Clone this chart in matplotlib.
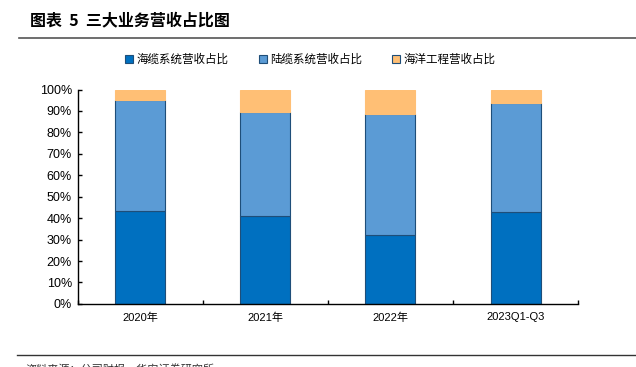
import numpy as np
import matplotlib
matplotlib.use('Agg')
import matplotlib.pyplot as plt
from matplotlib.ticker import FuncFormatter

plt.rcParams['font.family'] = ['Liberation Sans', 'Noto Sans CJK SC', 'DejaVu Sans']

# data (share of revenue, %)
categories = ['2020年', '2021年', '2022年', '2023Q1-Q3']
series_names = ['海缆系统营收占比', '陆缆系统营收占比', '海洋工程营收占比']
sea_cable = [43.4, 41.2, 32.0, 42.9]
land_cable = [51.7, 48.2, 56.4, 50.8]
marine_eng = [4.9, 10.6, 11.6, 6.3]

colors = ['#0070C0', '#5B9BD5', '#FFBF75']

fig = plt.figure(figsize=(6.36, 3.67), dpi=100)
ax = fig.add_axes([0.122, 0.172, 0.787, 0.584])

x = np.arange(len(categories))
w = 0.4
bottom = np.zeros(len(categories))
for vals, name, c in zip([sea_cable, land_cable, marine_eng], series_names, colors):
    ec = '#FFBF75' if c == '#FFBF75' else '#1F4E79'
    ax.bar(x, vals, w, bottom=bottom, color=c, edgecolor=ec, linewidth=0.8, label=name)
    bottom += np.array(vals)

ax.set_xlim(-0.5, len(categories) - 0.5)
ax.set_ylim(0, 100)
ax.set_yticks(np.arange(0, 101, 10))
ax.yaxis.set_major_formatter(FuncFormatter(lambda v, p: '%d%%' % v))
ax.set_xticks(x)
ax.set_xticklabels(categories, fontsize=8)
ax.set_xticks(np.arange(-0.5, len(categories), 1), minor=True)
ax.tick_params(axis='x', which='major', length=0, pad=6)
ax.tick_params(axis='x', which='minor', direction='in', length=3, width=1)
ax.tick_params(axis='y', direction='in', length=3, width=1, labelsize=9, pad=4)
for s in ['top', 'right']:
    ax.spines[s].set_visible(False)
ax.spines['left'].set_linewidth(1)
ax.spines['bottom'].set_linewidth(1)

leg = ax.legend(loc='upper center', bbox_to_anchor=(0.465, 1.22), ncol=3, frameon=False,
                handlelength=0.7, handleheight=0.7, columnspacing=2.6,
                handletextpad=0.3, prop={'family': ['Noto Sans CJK SC'], 'size': 8.3})
for h in leg.legend_handles:
    h.set_edgecolor('#1F4E79')

# title and rules
fig.text(0.047, 0.945, '图表  5  三大业务营收占比图', fontsize=11.5, fontweight='bold',
         family=['Noto Sans CJK SC'], va='center')
fig.add_artist(plt.Line2D([0.03, 1.0], [0.897, 0.897], color='#555555', lw=1.2))
fig.add_artist(plt.Line2D([0.027, 1.0], [0.033, 0.033], color='#333333', lw=1.0))
fig.text(0.04, -0.005, '资料来源：公司财报，华安证券研究所', fontsize=8,
         family=['Noto Sans CJK SC'], va='center', color='#333333')

fig.savefig('out.png', dpi=100)
